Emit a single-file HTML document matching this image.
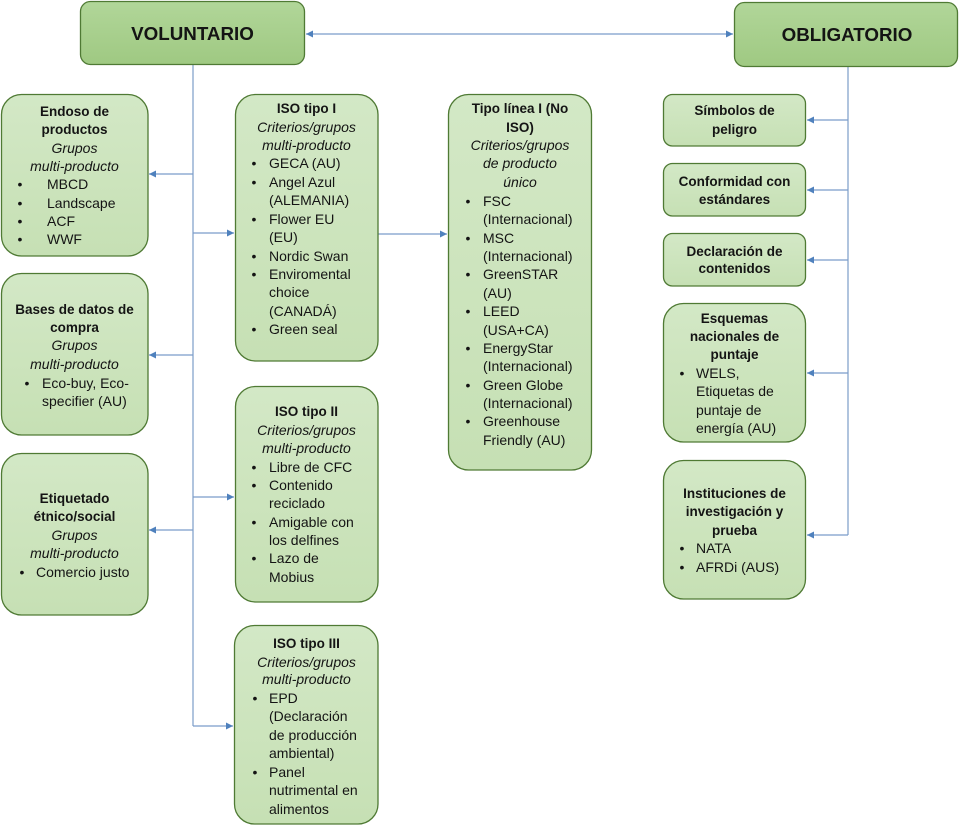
<!DOCTYPE html>
<html><head><meta charset="utf-8"><style>
html,body{margin:0;padding:0;background:#fff;}
svg{display:block;}
text{font-family:"Liberation Sans",sans-serif;fill:#141414;}
.b{font-weight:bold;font-size:13.5px;}
.i{font-style:italic;font-size:14px;}
.r{font-size:14px;}
.h{font-weight:bold;font-size:18.8px;}
.c{text-anchor:middle;}
.ln{stroke:#7b9cc9;stroke-width:1.2;fill:none;}
.bx{fill:url(#g2);stroke:#4f7a34;stroke-width:1.3;}
.hd{fill:url(#g1);stroke:#4f7a34;stroke-width:1.3;}
</style></head><body>
<svg width="960" height="827" viewBox="0 0 960 827" xmlns="http://www.w3.org/2000/svg">
<defs>
<linearGradient id="g1" x1="0" y1="0" x2="0" y2="1"><stop offset="0" stop-color="#b1d699"/><stop offset="1" stop-color="#9fc982"/></linearGradient>
<linearGradient id="g2" x1="0" y1="0" x2="0" y2="1"><stop offset="0" stop-color="#d3e8c6"/><stop offset="1" stop-color="#c6e0b4"/></linearGradient>
<marker id="ah" markerWidth="8" markerHeight="8" refX="7" refY="4" orient="auto" markerUnits="userSpaceOnUse"><path d="M0,0.5 L7,4 L0,7.5 Z" fill="#4f81bd"/></marker>
<marker id="as" markerWidth="8" markerHeight="8" refX="0" refY="4" orient="auto" markerUnits="userSpaceOnUse"><path d="M7,0.5 L0,4 L7,7.5 Z" fill="#4f81bd"/></marker>
</defs>

<!-- connectors -->
<line class="ln" x1="306" y1="34" x2="733" y2="34" marker-start="url(#as)" marker-end="url(#ah)"/>
<line class="ln" x1="193" y1="65" x2="193" y2="726"/>
<line class="ln" x1="193" y1="174" x2="149" y2="174" marker-end="url(#ah)"/>
<line class="ln" x1="193" y1="355" x2="149" y2="355" marker-end="url(#ah)"/>
<line class="ln" x1="193" y1="530" x2="149" y2="530" marker-end="url(#ah)"/>
<line class="ln" x1="193" y1="233" x2="234" y2="233" marker-end="url(#ah)"/>
<line class="ln" x1="193" y1="497" x2="234" y2="497" marker-end="url(#ah)"/>
<line class="ln" x1="193" y1="726" x2="233" y2="726" marker-end="url(#ah)"/>
<line class="ln" x1="378" y1="234" x2="447" y2="234" marker-end="url(#ah)"/>
<line class="ln" x1="848" y1="67" x2="848" y2="535"/>
<line class="ln" x1="848" y1="120" x2="807" y2="120" marker-end="url(#ah)"/>
<line class="ln" x1="848" y1="190" x2="807" y2="190" marker-end="url(#ah)"/>
<line class="ln" x1="848" y1="260" x2="807" y2="260" marker-end="url(#ah)"/>
<line class="ln" x1="848" y1="373" x2="807" y2="373" marker-end="url(#ah)"/>
<line class="ln" x1="848" y1="535" x2="807" y2="535" marker-end="url(#ah)"/>

<!-- headers -->
<rect class="hd" x="80.5" y="1.5" width="224" height="63" rx="10"/>
<text class="h c" x="192.5" y="40">VOLUNTARIO</text>
<rect class="hd" x="734.5" y="2.5" width="223" height="64" rx="10"/>
<text class="h c" x="847" y="41">OBLIGATORIO</text>

<!-- Endoso -->
<rect class="bx" x="1.5" y="94.5" width="146.5" height="161.5" rx="20"/>
<text class="b c" x="74.5" y="116">Endoso de</text>
<text class="b c" x="74.5" y="134">productos</text>
<text class="i c" x="74.5" y="153">Grupos</text>
<text class="i c" x="74.5" y="171">multi-producto</text>
<text class="r c" x="20" y="189">•</text><text class="r" x="47" y="189">MBCD</text>
<text class="r c" x="20" y="208">•</text><text class="r" x="47" y="208">Landscape</text>
<text class="r c" x="20" y="226">•</text><text class="r" x="47" y="226">ACF</text>
<text class="r c" x="20" y="244">•</text><text class="r" x="47" y="244">WWF</text>

<!-- Bases -->
<rect class="bx" x="1.5" y="273.5" width="146.5" height="161.5" rx="20"/>
<text class="b c" x="74.5" y="314">Bases de datos de</text>
<text class="b c" x="74.5" y="332">compra</text>
<text class="i c" x="74.5" y="350">Grupos</text>
<text class="i c" x="74.5" y="369">multi-producto</text>
<text class="r c" x="27" y="388">•</text><text class="r" x="42" y="388">Eco-buy, Eco-</text>
<text class="r" x="42" y="406">specifier (AU)</text>

<!-- Etiquetado -->
<rect class="bx" x="1.5" y="453.5" width="146.5" height="161.5" rx="20"/>
<text class="b c" x="74.5" y="503">Etiquetado</text>
<text class="b c" x="74.5" y="521">étnico/social</text>
<text class="i c" x="74.5" y="540">Grupos</text>
<text class="i c" x="74.5" y="558">multi-producto</text>
<text class="r c" x="22" y="577">•</text><text class="r" x="36" y="577">Comercio justo</text>

<!-- ISO tipo I -->
<rect class="bx" x="235.5" y="94.5" width="142.5" height="266.5" rx="20"/>
<text class="b c" x="306.5" y="113">ISO tipo I</text>
<text class="i c" x="306.5" y="132">Criterios/grupos</text>
<text class="i c" x="306.5" y="150">multi-producto</text>
<text class="r c" x="254" y="168">•</text><text class="r" x="269" y="168">GECA (AU)</text>
<text class="r c" x="254" y="187">•</text><text class="r" x="269" y="187">Angel Azul</text>
<text class="r" x="269" y="205">(ALEMANIA)</text>
<text class="r c" x="254" y="224">•</text><text class="r" x="269" y="224">Flower EU</text>
<text class="r" x="269" y="242">(EU)</text>
<text class="r c" x="254" y="261">•</text><text class="r" x="269" y="261">Nordic Swan</text>
<text class="r c" x="254" y="279">•</text><text class="r" x="269" y="279">Enviromental</text>
<text class="r" x="269" y="297">choice</text>
<text class="r" x="269" y="316">(CANADÁ)</text>
<text class="r c" x="254" y="334">•</text><text class="r" x="269" y="334">Green seal</text>

<!-- ISO tipo II -->
<rect class="bx" x="235.5" y="386.5" width="142.5" height="215.5" rx="20"/>
<text class="b c" x="306.5" y="416">ISO tipo II</text>
<text class="i c" x="306.5" y="435">Criterios/grupos</text>
<text class="i c" x="306.5" y="453">multi-producto</text>
<text class="r c" x="254" y="472">•</text><text class="r" x="269" y="472">Libre de CFC</text>
<text class="r c" x="254" y="490">•</text><text class="r" x="269" y="490">Contenido</text>
<text class="r" x="269" y="508">reciclado</text>
<text class="r c" x="254" y="527">•</text><text class="r" x="269" y="527">Amigable con</text>
<text class="r" x="269" y="545">los delfines</text>
<text class="r c" x="254" y="563">•</text><text class="r" x="269" y="563">Lazo de</text>
<text class="r" x="269" y="582">Mobius</text>

<!-- ISO tipo III -->
<rect class="bx" x="234.5" y="625.5" width="143.5" height="198.5" rx="20"/>
<text class="b c" x="306.5" y="648">ISO tipo III</text>
<text class="i c" x="306.5" y="667">Criterios/grupos</text>
<text class="i c" x="306.5" y="684">multi-producto</text>
<text class="r c" x="255" y="703">•</text><text class="r" x="269" y="703">EPD</text>
<text class="r" x="269" y="721">(Declaración</text>
<text class="r" x="269" y="740">de producción</text>
<text class="r" x="269" y="758">ambiental)</text>
<text class="r c" x="255" y="777">•</text><text class="r" x="269" y="777">Panel</text>
<text class="r" x="269" y="795">nutrimental en</text>
<text class="r" x="269" y="814">alimentos</text>

<!-- Tipo linea I -->
<rect class="bx" x="448.5" y="94.5" width="143" height="375.5" rx="20"/>
<text class="b c" x="520" y="113">Tipo línea I (No</text>
<text class="b c" x="520" y="132">ISO)</text>
<text class="i c" x="520" y="150">Criterios/grupos</text>
<text class="i c" x="520" y="168">de producto</text>
<text class="i c" x="520" y="187">único</text>
<text class="r c" x="468" y="206">•</text><text class="r" x="483" y="206">FSC</text>
<text class="r" x="483" y="224">(Internacional)</text>
<text class="r c" x="468" y="243">•</text><text class="r" x="483" y="243">MSC</text>
<text class="r" x="483" y="261">(Internacional)</text>
<text class="r c" x="468" y="279">•</text><text class="r" x="483" y="279">GreenSTAR</text>
<text class="r" x="483" y="298">(AU)</text>
<text class="r c" x="468" y="316">•</text><text class="r" x="483" y="316">LEED</text>
<text class="r" x="483" y="335">(USA+CA)</text>
<text class="r c" x="468" y="353">•</text><text class="r" x="483" y="353">EnergyStar</text>
<text class="r" x="483" y="371">(Internacional)</text>
<text class="r c" x="468" y="390">•</text><text class="r" x="483" y="390">Green Globe</text>
<text class="r" x="483" y="408">(Internacional)</text>
<text class="r c" x="468" y="426">•</text><text class="r" x="483" y="426">Greenhouse</text>
<text class="r" x="483" y="445">Friendly (AU)</text>

<!-- Right column -->
<rect class="bx" x="663.5" y="94.5" width="142" height="51.5" rx="9"/>
<text class="b c" x="734.5" y="115">Símbolos de</text>
<text class="b c" x="734.5" y="134">peligro</text>

<rect class="bx" x="663.5" y="163.5" width="142" height="52.5" rx="9"/>
<text class="b c" x="734.5" y="186">Conformidad con</text>
<text class="b c" x="734.5" y="204">estándares</text>

<rect class="bx" x="663.5" y="233.5" width="142" height="52.5" rx="9"/>
<text class="b c" x="734.5" y="256">Declaración de</text>
<text class="b c" x="734.5" y="273">contenidos</text>

<rect class="bx" x="663.5" y="303.5" width="142" height="138.5" rx="20"/>
<text class="b c" x="734.5" y="323">Esquemas</text>
<text class="b c" x="734.5" y="341">nacionales de</text>
<text class="b c" x="734.5" y="359">puntaje</text>
<text class="r c" x="682" y="378">•</text><text class="r" x="696" y="378">WELS,</text>
<text class="r" x="696" y="396">Etiquetas de</text>
<text class="r" x="696" y="415">puntaje de</text>
<text class="r" x="696" y="433">energía (AU)</text>

<rect class="bx" x="663.5" y="460.5" width="142" height="138.5" rx="20"/>
<text class="b c" x="734.5" y="498">Instituciones de</text>
<text class="b c" x="734.5" y="516">investigación y</text>
<text class="b c" x="734.5" y="535">prueba</text>
<text class="r c" x="682" y="553">•</text><text class="r" x="696" y="553">NATA</text>
<text class="r c" x="682" y="572">•</text><text class="r" x="696" y="572">AFRDi (AUS)</text>
</svg>
</body></html>
